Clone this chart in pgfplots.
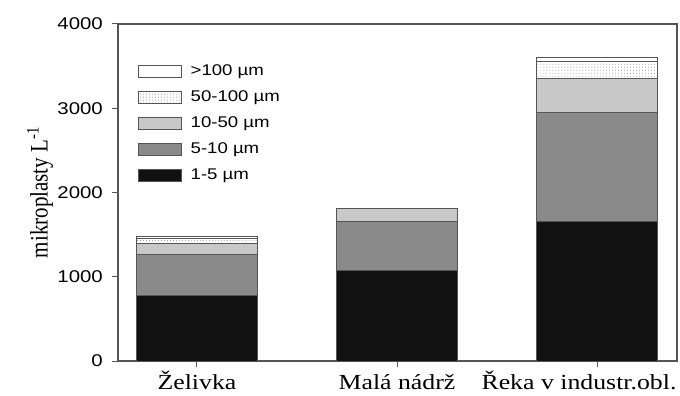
\documentclass[border=0pt]{standalone}
\usepackage{fontspec}
\setmainfont{Liberation Sans}[FakeStretch=1.2]
\newfontfamily\timesf{Liberation Serif}[FakeStretch=1.2]
\newfontfamily\timesy{Liberation Serif}
\usepackage{graphicx}
\usepackage{pgfplots}
\pgfplotsset{compat=1.18}
\usetikzlibrary{patterns,calc}
\definecolor{axgray}{HTML}{555555}
\definecolor{c1}{HTML}{111111}
\definecolor{c2}{HTML}{8A8A8A}
\definecolor{c3}{HTML}{C8C8C8}
\begin{document}
\begin{tikzpicture}
\begin{axis}[
  name=ax,
  scale only axis, width=559bp, height=337bp,
  ybar stacked, bar width=121bp,
  xmin=-0.395, xmax=2.40, ymin=0, ymax=4000,
  xtick={0,1,2},
  xticklabels={Želivka, Malá nádrž, Řeka v industr.obl.\hspace*{36bp}},
  ytick={0,1000,2000,3000,4000},
  tick pos=left, tick align=outside, major tick length=6bp,
  axis line style={axgray, line width=1.1bp},
  every tick/.style={axgray, line width=1bp},
  /pgf/number format/assume math mode=true,
  /pgf/number format/set thousands separator={},
  yticklabel style={font=\fontsize{17bp}{20bp}\selectfont, inner sep=0pt, xshift=-9bp},
  xticklabel style={font=\timesf\fontsize{21.5bp}{26bp}\selectfont, text height=15bp, text depth=0bp, inner sep=0pt, yshift=-7bp},
  every axis y label/.style={at={(rel axis cs:0,0.5)}, anchor=center, rotate=90, yshift=78bp},
  ylabel={\scalebox{1}[1.2]{\timesy\fontsize{21bp}{24bp}\selectfont mikroplasty L\textsuperscript{-1}}},
  reverse legend,
  legend cell align=left,
  legend style={draw=none, fill=none, at={(0.035,0.887)}, anchor=north west,
    font=\fontsize{15.5bp}{18bp}\selectfont, inner sep=0pt, row sep=8bp,
    nodes={inner sep=2bp, text height=11bp, text depth=3bp},
    /tikz/every odd column/.append style={column sep=7bp}},
  legend image code/.code={\draw[#1] (0bp,-6bp) rectangle (43bp,6bp);},
]
\addplot[fill=c1, draw=axgray, line width=0.9bp] coordinates {(0,775) (1,1070) (2,1655)};
\addplot[fill=c2, draw=axgray, line width=0.9bp] coordinates {(0,490) (1,585) (2,1295)};
\addplot[fill=c3, draw=axgray, line width=0.9bp] coordinates {(0,135) (1,150) (2,400)};
\addplot[pattern=dots, pattern color=black!45, draw=axgray, line width=0.9bp] coordinates {(0,50) (1,0) (2,200)};
\addplot[fill=white, draw=axgray, line width=0.9bp] coordinates {(0,25) (1,0) (2,50)};
\legend{1-5 µm, 5-10 µm, 10-50 µm, 50-100 µm, >100 µm}
\end{axis}
\pgfresetboundingbox
\path[use as bounding box] ($(ax.south west)+(-118bp,-35bp)$) rectangle ($(ax.north east)+(3bp,24bp)$);
\end{tikzpicture}
\end{document}
